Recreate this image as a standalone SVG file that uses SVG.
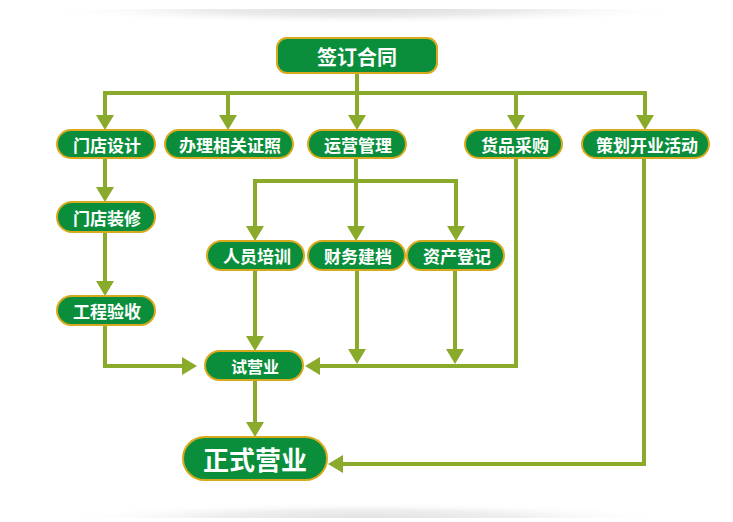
<svg xmlns="http://www.w3.org/2000/svg" width="733" height="522" viewBox="0 0 733 522">
<defs>
<radialGradient id="shTop" cx="0.5" cy="0" r="0.5" fx="0.5" fy="0" gradientUnits="objectBoundingBox">
<stop offset="0" stop-color="#dcdcdc"/>
<stop offset="0.5" stop-color="#ececec"/>
<stop offset="1" stop-color="#ffffff" stop-opacity="0"/>
</radialGradient>
<radialGradient id="shBot" cx="0.5" cy="1" r="0.5" fx="0.5" fy="1">
<stop offset="0" stop-color="#e2e2e2"/>
<stop offset="0.5" stop-color="#efefef"/>
<stop offset="1" stop-color="#ffffff" stop-opacity="0"/>
</radialGradient>
<marker id="ah" markerUnits="userSpaceOnUse" markerWidth="16" markerHeight="20" viewBox="0 0 16 20" refX="7" refY="10" orient="auto">
<path d="M0,1 L15,10 L0,19 z" fill="#8aaa2b"/>
</marker>
<style>
.n rect{fill:#0b8e3b;stroke:#d8a91c;stroke-width:2}
.n text{fill:#ffffff;font-family:"Noto Sans CJK SC","Noto Sans",sans-serif;font-weight:bold;text-anchor:middle;dominant-baseline:central;font-size:17px}
.c path{fill:none;stroke:#8aaa2b;stroke-width:4;stroke-linejoin:miter}
.c .a{marker-end:url(#ah)}
</style>
</defs>
<rect width="733" height="522" fill="#ffffff"/>
<rect x="36" y="9" width="660" height="30" fill="url(#shTop)"/>
<rect x="56" y="486" width="620" height="32" fill="url(#shBot)"/>
<g class="c" id="connectors">
<path d="M357,74 V93"/>
<path d="M103,93 H647"/>
<path class="a" d="M105,93 V122"/>
<path class="a" d="M228,93 V122"/>
<path class="a" d="M357,93 V122"/>
<path class="a" d="M516,93 V122"/>
<path class="a" d="M645,93 V122"/>
<path class="a" d="M105,158 V194"/>
<path class="a" d="M105,232 V288"/>
<path class="a" d="M105,325 V366 H189"/>
<path d="M356,158 V181"/>
<path d="M253,181 H458"/>
<path class="a" d="M255,181 V233"/>
<path class="a" d="M356,181 V233"/>
<path class="a" d="M456,181 V233"/>
<path class="a" d="M255,270 V343"/>
<path class="a" d="M357,270 V356"/>
<path class="a" d="M455,270 V356"/>
<path class="a" d="M516,158 V366 H313"/>
<path class="a" d="M255,380 V429"/>
<path class="a" d="M644,158 V464 H336"/>
</g>
<g class="n" id="n_sign"><rect x="277" y="38" width="160" height="35" rx="10"/><text x="357" y="56" style="font-size:20px">签订合同</text></g>
<g class="n" id="n_design"><rect x="57" y="130" width="98" height="28" rx="14"/><text x="107" y="144">门店设计</text></g>
<g class="n" id="n_license"><rect x="165" y="130" width="128" height="28" rx="14"/><text x="230" y="144">办理相关证照</text></g>
<g class="n" id="n_ops"><rect x="308" y="130" width="98" height="28" rx="14"/><text x="358" y="144">运营管理</text></g>
<g class="n" id="n_purchase"><rect x="465" y="130" width="97" height="28" rx="14"/><text x="515" y="144">货品采购</text></g>
<g class="n" id="n_plan"><rect x="582" y="130" width="127" height="28" rx="14"/><text x="647" y="144">策划开业活动</text></g>
<g class="n" id="n_decor"><rect x="57" y="202" width="98" height="30" rx="15"/><text x="107" y="217">门店装修</text></g>
<g class="n" id="n_accept"><rect x="57" y="296" width="98" height="29" rx="14.5"/><text x="107" y="310.5">工程验收</text></g>
<g class="n" id="n_train"><rect x="207" y="241" width="97" height="29" rx="14.5"/><text x="257" y="255.5">人员培训</text></g>
<g class="n" id="n_finance"><rect x="308" y="241" width="97" height="29" rx="14.5"/><text x="358" y="255.5">财务建档</text></g>
<g class="n" id="n_asset"><rect x="407" y="241" width="97" height="29" rx="14.5"/><text x="457" y="255.5">资产登记</text></g>
<g class="n" id="n_trial"><rect x="205" y="351" width="98" height="29" rx="14.5"/><text x="255" y="365.5" style="font-size:16px">试营业</text></g>
<g class="n" id="n_open"><rect x="183" y="437" width="144" height="43" rx="21.5"/><text x="255" y="458.5" style="font-size:26px">正式营业</text></g>
</svg>
